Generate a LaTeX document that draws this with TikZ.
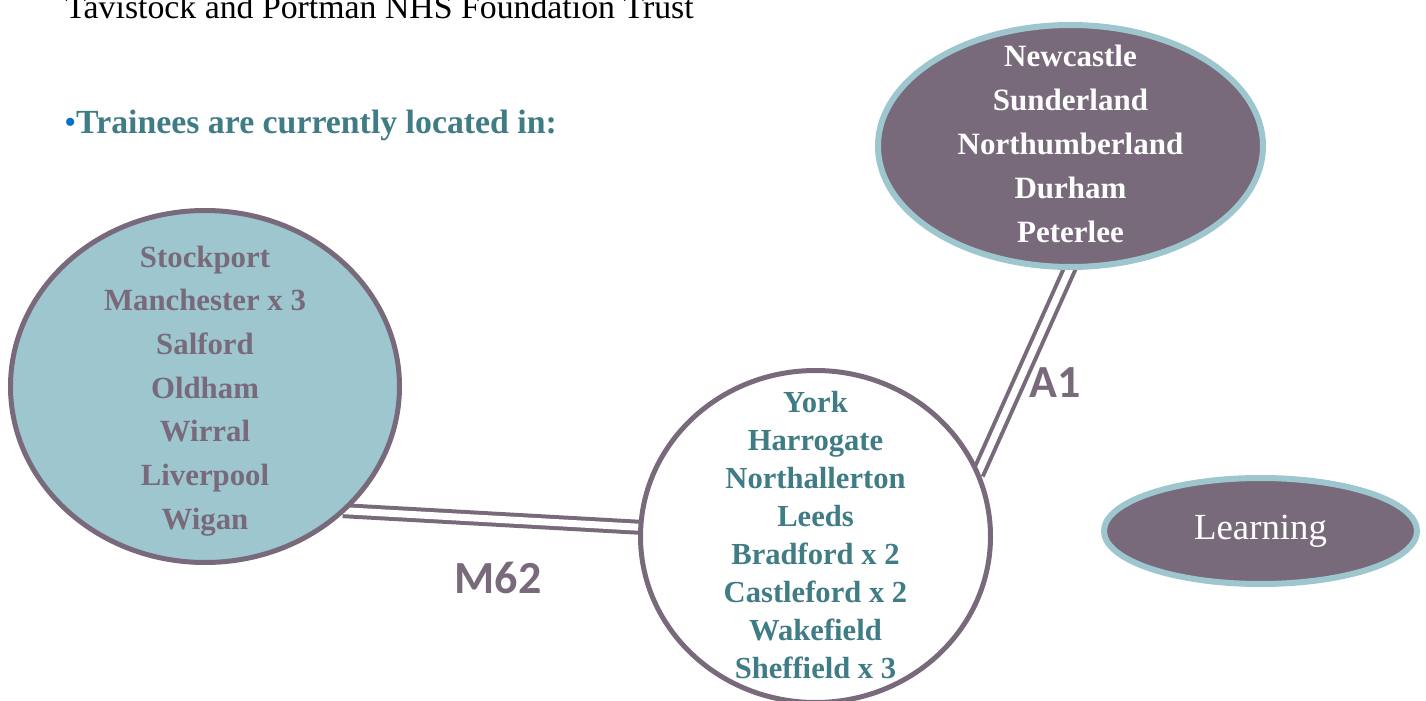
\documentclass[tikz,border=0pt]{standalone}
\usepackage{fontspec}
\setmainfont{Liberation Serif}
\newfontfamily\roadfont{Carlito}
\usetikzlibrary{shapes.geometric}
\pgfdeclarelayer{background}
\pgfsetlayers{background,main}
\definecolor{framepurple}{HTML}{786A7B}
\definecolor{paleteal}{HTML}{9DC6CE}
\definecolor{deepteal}{HTML}{3F7C85}
\definecolor{bulletblue}{HTML}{0072C6}
\begin{document}
\begin{tikzpicture}[x=0.5pt,y=-0.5pt,
  region/.style={ellipse, inner sep=0pt, outer sep=0pt},
  placelist/.style 2 args={align=center, inner sep=0pt, font=\bfseries\fontsize{#1}{#2}\selectfont},
  road/.style={draw=framepurple, line width=2pt, double=white, double distance=3.5pt},
  roadlabel/.style={font=\roadfont\bfseries\fontsize{23}{23}\selectfont, text=framepurple, inner sep=0pt}]
\useasboundingbox (0,0) rectangle (1426,701);

% header lines
\node[anchor=base west, inner sep=0pt, font=\fontsize{16.9}{20}\selectfont] (trust) at (65,19)
  {Tavistock and Portman NHS Foundation Trust};
\node[anchor=base west, inner sep=0pt, text=deepteal, font=\bfseries\fontsize{16.9}{20}\selectfont] (heading) at (64,134)
  {{\color{bulletblue}\mdseries•}Trainees are currently located in:};

% regions
\node[region, draw=framepurple, line width=2.5pt, fill=paleteal,
      minimum width=194.5pt, minimum height=176pt] (west) at (205,386.5) {};
\node[region, draw=framepurple, line width=2.5pt, fill=white,
      minimum width=175pt, minimum height=166pt] (yorks) at (815.5,536.5) {};
\node[region, draw=paleteal, line width=3pt, fill=framepurple,
      minimum width=192.5pt, minimum height=121pt] (north) at (1070.5,146) {};
\node[region, draw=paleteal, line width=3pt, fill=framepurple,
      minimum width=156.5pt, minimum height=53pt] (learning) at (1260.5,531) {};

% place names
\node[placelist={15.4}{21.85}, text=framepurple] (westnames) at (205,391)
  {Stockport\\Manchester x 3\\Salford\\Oldham\\Wirral\\Liverpool\\Wigan};
\node[placelist={15.3}{19}, text=deepteal] (yorksnames) at (815.5,535)
  {York\\Harrogate\\Northallerton\\Leeds\\Bradford x 2\\Castleford x 2\\Wakefield\\Sheffield x 3};
\node[placelist={15.5}{22}, text=white] (northnames) at (1070.5,144)
  {Newcastle\\Sunderland\\Northumberland\\Durham\\Peterlee};
\node[inner sep=0pt, text=white, font=\fontsize{18.4}{20}\selectfont] (learningtext) at (learning) {Learning};

% roads
\begin{pgfonlayer}{background}
  \draw[road] (west.-42.3) -- (yorks.177.9);
  \draw[road] (yorks.21.5) -- (north.-90.7);
\end{pgfonlayer}
\node[roadlabel] (m62) at (498,578) {M62};
\node[roadlabel] (a1) at (1055,383) {A1};
\end{tikzpicture}
\end{document}
